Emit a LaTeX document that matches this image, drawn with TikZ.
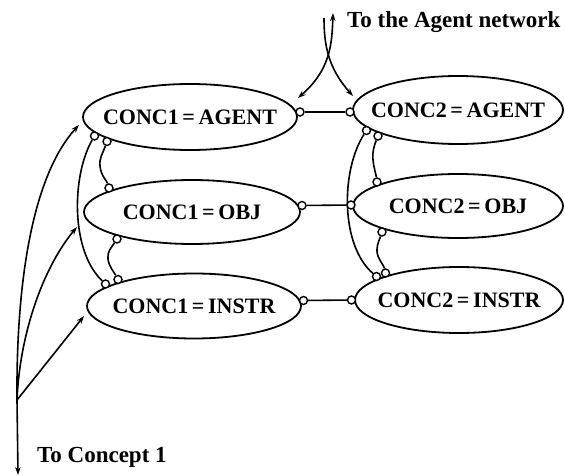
\documentclass[tikz,border=0pt]{standalone}
\usepackage{fontspec}
\setmainfont{Liberation Serif}
\usetikzlibrary{shapes.geometric,arrows.meta,backgrounds}
\newcommand{\ctext}[1]{\makebox[0pt]{#1}}
\begin{document}
\begin{tikzpicture}[x=1pt,y=-1pt,
  >={Stealth[length=8pt,width=5.5pt]},
  conc/.style={ellipse,draw,line width=1.8pt,inner sep=0pt,font=\fontsize{22}{26}\selectfont\bfseries},
  dot/.style={circle,draw,fill=white,line width=1.4pt,minimum size=8pt,inner sep=0pt},
  link/.style={line width=1.6pt},
  arr/.style={link,->},
  biarr/.style={link,<->},
  lbl/.style={font=\fontsize{23}{27}\selectfont\bfseries,inner sep=0pt}]
\useasboundingbox (0,0) rectangle (565,476);
% concept ellipses
\node[conc,minimum width=214pt,minimum height=66pt] (a1) at (190,117) {\ctext{CONC1\,=\,AGENT}};
\node[conc,minimum width=210pt,minimum height=68pt] (a2) at (458,110) {\ctext{CONC2\,=\,AGENT}};
\node[conc,minimum width=216pt,minimum height=64pt] (o1) at (192,212) {\ctext{CONC1\,=\,OBJ}};
\node[conc,minimum width=210pt,minimum height=64pt] (o2) at (458,206) {\ctext{CONC2\,=\,OBJ}};
\node[conc,minimum width=214pt,minimum height=65pt] (i1) at (194,306) {\ctext{CONC1\,=\,INSTR}};
\node[conc,minimum width=208pt,minimum height=66pt] (i2) at (459,300) {\ctext{CONC2\,=\,INSTR}};
% small circles
\node[dot] (c1r) at (300,112) {};
\node[dot] (c2l) at (350,112) {};
\node[dot] (c1b1) at (94.5,136) {};
\node[dot] (c1b2) at (107,141.5) {};
\node[dot] (o1t) at (109,188) {};
\node[dot] (o1r) at (302,205.5) {};
\node[dot] (o2l) at (351,205) {};
\node[dot] (o1b) at (117,239) {};
\node[dot] (i1t1) at (118,279.5) {};
\node[dot] (i1t2) at (105.5,284) {};
\node[dot] (i1r) at (303.5,300.5) {};
\node[dot] (i2l) at (351.5,300) {};
\node[dot] (a2b1) at (366.5,130.5) {};
\node[dot] (a2b2) at (378,136) {};
\node[dot] (o2t) at (377,182) {};
\node[dot] (o2b) at (382,232) {};
\node[dot] (i2t1) at (385.5,273) {};
\node[dot] (i2t2) at (376.5,276.5) {};
% labels
\node[lbl,anchor=base west] (tan) at (347,28) {To the Agent network};
\node[lbl,anchor=base west] (tc1) at (37,462) {To Concept 1};
% coordinates
\coordinate (J) at (17,400);
\coordinate (B) at (18,475);
\coordinate (tA) at (79,125);
\coordinate (tO) at (77,227);
\coordinate (tI) at (84,316);
\coordinate (tTR) at (333,13);
\coordinate (tTL) at (324,18);
\coordinate (tT1) at (298,98);
\coordinate (tT2) at (353,96);
\begin{scope}[on background layer]
% horizontal links
\draw[link] (c1r) -- (c2l);
\draw[link] (o1r) -- (o2l);
\draw[link] (i1r) -- (i2l);
% long arcs
\draw[link] (c1b1) .. controls (72,175) and (70,250) .. (i1t2);
\draw[link] (a2b1) .. controls (341,170) and (340,245) .. (i2t2);
% wavy links
\draw[link] (c1b2) .. controls (103,153) and (99,158) .. (100,166) .. controls (101,176) and (107,181) .. (o1t);
\draw[link] (o1b) .. controls (111,248) and (107,252) .. (108,259) .. controls (109,267) and (114,272) .. (i1t1);
\draw[link] (a2b2) .. controls (374,146) and (372,153) .. (373,160) .. controls (374,169) and (376,174) .. (o2t);
\draw[link] (o2b) .. controls (379,241) and (375,248) .. (378,256) .. controls (381,263) and (384,266) .. (i2t1);
% left arrows
\draw[arr] (J) .. controls (16,280) and (33,175) .. (tA);
\draw[arr] (J) .. controls (20,330) and (45,265) .. (tO);
\draw[arr] (J) -- (tI);
\draw[arr] (J) -- (B);
% top arrows
\draw[biarr] (tTR) .. controls (332,45) and (330,70) .. (tT1);
\draw[arr] (tTL) .. controls (324,45) and (328,68) .. (tT2);
\end{scope}
\end{tikzpicture}
\end{document}
